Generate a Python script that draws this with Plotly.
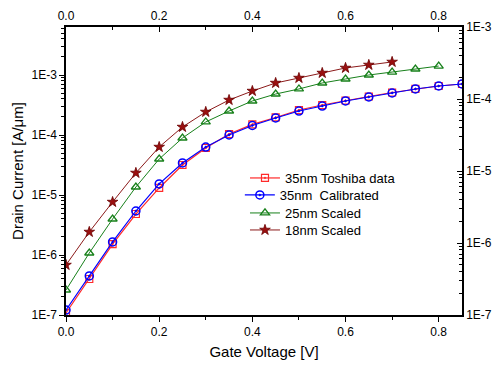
import plotly.graph_objects as go

vg = [0.0, 0.05, 0.1, 0.15, 0.2, 0.25, 0.3, 0.35, 0.4, 0.45, 0.5, 0.55, 0.6,
      0.65, 0.7, 0.75, 0.8, 0.85]

toshiba_35 = [1.08e-7, 3.98e-7, 1.52e-6, 4.82e-6, 1.31e-5, 3.16e-5, 6.07e-5,
              1.04e-4, 1.50e-4, 1.96e-4, 2.61e-4, 3.16e-4, 3.76e-4, 4.38e-4,
              5.11e-4, 5.85e-4, 6.56e-4, 7.08e-4]
calib_35 = [1.21e-7, 4.47e-7, 1.65e-6, 5.41e-6, 1.53e-5, 3.42e-5, 6.3e-5,
            1.0e-4, 1.44e-4, 1.92e-4, 2.51e-4, 3.04e-4, 3.69e-4, 4.30e-4,
            5.01e-4, 5.85e-4, 6.56e-4, 7.08e-4]
vg_25 = vg[:17]
scaled_25 = [2.61e-7, 1.08e-6, 3.98e-6, 1.36e-5, 3.98e-5, 8.91e-5, 1.65e-4,
             2.51e-4, 3.69e-4, 4.82e-4, 5.85e-4, 7.36e-4, 8.58e-4, 1.0e-3,
             1.12e-3, 1.26e-3, 1.41e-3]
vg_18 = vg[:15]
scaled_18 = [6.81e-7, 2.42e-6, 7.64e-6, 2.33e-5, 6.31e-5, 1.36e-4, 2.42e-4,
             3.83e-4, 5.41e-4, 7.36e-4, 8.91e-4, 1.08e-3, 1.31e-3, 1.47e-3,
             1.65e-3]

x_ticks = [0.0, 0.2, 0.4, 0.6, 0.8]
x_minor = [0.1, 0.3, 0.5, 0.7]
y_ticks = [1e-7, 1e-6, 1e-5, 1e-4, 1e-3]
y_ticktext = ["1E-7", "1E-6", "1E-5", "1E-4", "1E-3"]
y_minor = [m * 10 ** e for e in range(-7, -2) for m in range(2, 10)]

FONT = "Liberation Sans, Arial, sans-serif"

fig = go.Figure()
fig.add_trace(go.Scatter(x=vg, y=toshiba_35, name="35nm Toshiba data",
                         mode="lines+markers", legend="legend",
                         line=dict(color="#ff2a2a", width=1.2),
                         marker=dict(symbol="square-open-dot", size=7,
                                     color="#ff2a2a", line=dict(width=1.2))))
fig.add_trace(go.Scatter(x=vg, y=calib_35, name="35nm  Calibrated",
                         mode="lines+markers", legend="legend2",
                         line=dict(color="#0000ff", width=1.2),
                         marker=dict(symbol="circle-open-dot", size=8,
                                     color="#0000ff", line=dict(width=1.5))))
fig.add_trace(go.Scatter(x=vg_25, y=scaled_25, name="25nm Scaled",
                         mode="lines+markers", legend="legend3",
                         line=dict(color="#17801a", width=1),
                         marker=dict(symbol="triangle-up-open", size=8,
                                     color="#17801a", line=dict(width=1.3))))
fig.add_trace(go.Scatter(x=vg_18, y=scaled_18, name="18nm Scaled",
                         mode="lines+markers", legend="legend4",
                         line=dict(color="#8b1a1a", width=1),
                         marker=dict(symbol="star", size=8, color="#9a1010",
                                     line=dict(width=0.8, color="#6b0000"))))

axis_common = dict(showgrid=False, zeroline=False, showline=True,
                   linecolor="black", linewidth=1.5, tickcolor="black",
                   tickwidth=1, ticklen=5, automargin=False,
                   tickfont=dict(family=FONT, size=12, color="black"))


def leg(x, y):
    return dict(x=x, y=y, xanchor="left", yanchor="middle",
                bgcolor="rgba(0,0,0,0)", borderwidth=0,
                font=dict(family=FONT, size=13, color="black"),
                itemwidth=30)


fig.update_layout(
    width=495, height=365,
    margin=dict(l=66, r=33, t=27, b=50, autoexpand=False),
    plot_bgcolor="white", paper_bgcolor="white",
    showlegend=True,
    legend=leg(0.452, 0.4757),
    legend2=leg(0.439, 0.4167),
    legend3=leg(0.452, 0.3542),
    legend4=leg(0.452, 0.2951),
    xaxis=dict(range=[0, 0.85], tickvals=x_ticks, tickformat=".1f",
               ticks="outside", mirror=False,
               minor=dict(tickvals=x_minor, ticks="outside", ticklen=3,
                          tickcolor="black"),
               title=dict(text="Gate Voltage [V]",
                          font=dict(family=FONT, size=15, color="black"),
                          standoff=8),
               **axis_common),
    xaxis2=dict(range=[0, 0.85], tickvals=x_ticks, tickformat=".1f",
                overlaying="x", side="top", ticks="inside",
                minor=dict(tickvals=x_minor, ticks="inside", ticklen=3,
                           tickcolor="black"),
                **axis_common),
    yaxis=dict(type="log", range=[-7, -2.2], tickvals=y_ticks,
               ticktext=y_ticktext, ticks="outside",
               minor=dict(tickvals=y_minor, ticks="outside", ticklen=3,
                          tickcolor="black"),
               title=dict(text="Drain Current [A/μm]",
                          font=dict(family=FONT, size=15, color="black"),
                          standoff=4),
               **axis_common),
    yaxis2=dict(type="log", range=[-7, -3], tickvals=y_ticks,
                ticktext=y_ticktext, overlaying="y", side="right",
                ticks="inside",
                minor=dict(tickvals=y_minor, ticks="inside", ticklen=3,
                           tickcolor="black"),
                **axis_common),
)

# invisible trace to activate the secondary axes
fig.add_trace(go.Scatter(x=[0.4], y=[1e-5], xaxis="x2", yaxis="y2",
                         mode="markers", marker=dict(opacity=0),
                         showlegend=False, hoverinfo="skip"))

fig.write_html("out.html",
               config={"displayModeBar": False},
               post_script="document.body.style.margin='0px';"
                           "document.body.style.overflow='hidden';")
